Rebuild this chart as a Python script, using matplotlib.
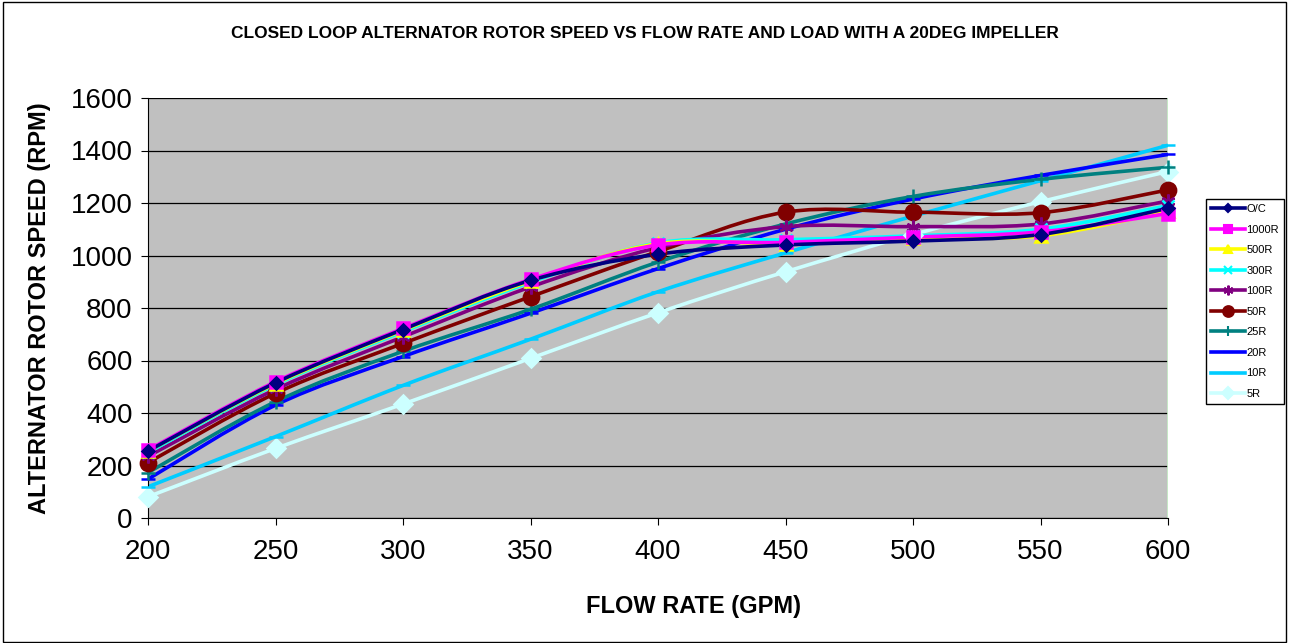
import matplotlib
matplotlib.use("Agg")
import matplotlib.pyplot as plt
import numpy as np
from matplotlib.path import Path
from matplotlib.patches import PathPatch, Rectangle
from matplotlib.lines import Line2D

plt.rcParams['font.family'] = ['Liberation Sans', 'DejaVu Sans']

flow = [200, 250, 300, 350, 400, 450, 500, 550, 600]
series_names = ["O/C", "1000R", "500R", "300R", "100R", "50R", "25R", "20R", "10R", "5R"]
oc    = [255, 515, 718, 905, 1005, 1040, 1055, 1080, 1180]
r1000 = [259, 519, 722, 909, 1040, 1050, 1070, 1090, 1160]
r500  = [255, 512, 715, 903, 1045, 1045, 1065, 1075, 1168]
r300  = [250, 508, 710, 898, 1048, 1060, 1075, 1100, 1190]
r100  = [235, 490, 690, 880, 1030, 1110, 1110, 1120, 1208]
r50   = [211, 475, 665, 843, 1015, 1165, 1165, 1163, 1250]
r25   = [173, 443, 635, 795, 975, 1120, 1225, 1290, 1336]
r20   = [148, 430, 615, 780, 950, 1100, 1215, 1305, 1385]
r10   = [119, 310, 505, 681, 862, 1010, 1150, 1285, 1420]
r5    = [81, 265, 434, 608, 782, 938, 1080, 1205, 1320]
values = [oc, r1000, r500, r300, r100, r50, r25, r20, r10, r5]

colors = ["#000080", "#FF00FF", "#FFFF00", "#00FFFF", "#800080", "#800000",
          "#008080", "#0000FF", "#00CCFF", "#CCFFFF"]
markers = ["D", "s", "^", "x", (6, 2, 0), "o", "+", "_", "_", "D"]
msizes = [6, 9, 9, 9, 10, 11, 10, 10, 10, 9]

fig = plt.figure(figsize=(12.89, 6.43), dpi=100)
fig.patch.set_facecolor("white")
fig.add_artist(Rectangle((0.002, 0.002), 0.996, 0.995, transform=fig.transFigure,
                         fill=False, edgecolor="black", linewidth=1))

ax = fig.add_axes([148/1289, 1-518/643, (1168-148)/1289, (518-98)/643])
ax.set_facecolor("#C0C0C0")
ax.set_xlim(200, 600)
ax.set_ylim(0, 1600)
ax.set_yticks(range(0, 1601, 200))
ax.set_xticks(range(200, 601, 50))
ax.grid(axis="y", color="black", linewidth=0.9)
ax.set_axisbelow(True)
for s in ["top", "right"]:
    ax.spines[s].set_visible(False)
ax.spines["left"].set_color("black")
ax.spines["bottom"].set_color("black")
ax.axvline(600, color="#C8F0C8", linewidth=1.2)
ax.tick_params(axis="both", labelsize=20, length=5, direction="out")
ax.tick_params(axis="x", pad=10)
ax.tick_params(axis="y", pad=6)


def smooth_path(x, y):
    x = np.asarray(x, float)
    y = np.asarray(y, float)
    n = len(x)
    verts = [(x[0], y[0])]
    codes = [Path.MOVETO]
    for i in range(n - 1):
        p0 = np.array([x[max(i - 1, 0)], y[max(i - 1, 0)]])
        p1 = np.array([x[i], y[i]])
        p2 = np.array([x[i + 1], y[i + 1]])
        p3 = np.array([x[min(i + 2, n - 1)], y[min(i + 2, n - 1)]])
        c1 = p1 + (p2 - p0) / 6.0
        c2 = p2 - (p3 - p1) / 6.0
        verts += [tuple(c1), tuple(c2), tuple(p2)]
        codes += [Path.CURVE4] * 3
    return Path(verts, codes)


handles = []
order = list(range(len(values)))[::-1]
for i in order:
    vals = values[i]
    patch = PathPatch(smooth_path(flow, vals), facecolor="none", edgecolor=colors[i],
                      linewidth=2.6, zorder=2 + (len(values) - i) * 0.01)
    ax.add_patch(patch)
for i in order:
    vals = values[i]
    ax.plot(flow, vals, linestyle="none", marker=markers[i], markersize=msizes[i],
            color=colors[i], markeredgecolor=colors[i], markeredgewidth=1.8,
            zorder=3 + (len(values) - i) * 0.01, clip_on=False)

for i in range(len(values)):
    handles.append(Line2D([0], [0], color=colors[i], linewidth=2.6, marker=markers[i],
                          markersize=msizes[i] * 0.7, markeredgecolor=colors[i],
                          markeredgewidth=1.5, label=series_names[i]))

leg = fig.legend(handles=handles, loc="upper right",
                 bbox_to_anchor=(1284/1289, 1-199/643), fontsize=8,
                 frameon=True, fancybox=False, edgecolor="black", framealpha=1,
                 handlelength=3.0, labelspacing=0.95, borderpad=0.45,
                 handletextpad=0.15, borderaxespad=0)
leg.get_frame().set_linewidth(1)

fig.text(0.5, 1-33/643, "CLOSED LOOP ALTERNATOR ROTOR SPEED VS FLOW RATE AND LOAD WITH A 20DEG IMPELLER",
         ha="center", va="center", fontsize=12.5, fontweight="bold")
fig.text(694/1289, 1-607/643, "FLOW RATE (GPM)", ha="center", va="center",
         fontsize=17, fontweight="bold")
ax.set_ylabel("ALTERNATOR ROTOR SPEED (RPM)", fontsize=17, fontweight="bold", labelpad=14)

fig.savefig("out.png", dpi=100)
